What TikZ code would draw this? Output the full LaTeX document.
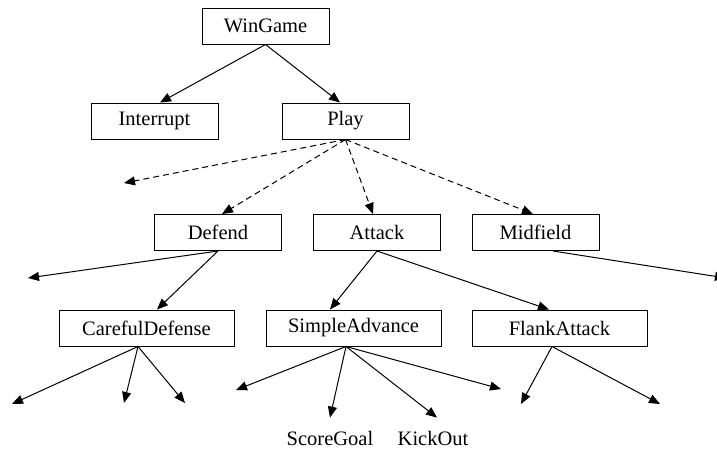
\documentclass[tikz,border=0pt]{standalone}
\usepackage{fontspec}
\setmainfont{Liberation Serif}
\usetikzlibrary{arrows.meta}
\begin{document}
\begin{tikzpicture}[x=1pt,y=-1pt,
  every node/.style={font=\fontsize{20.5}{24}\selectfont},
  goal/.style={draw,line width=1pt,minimum width=127pt,minimum height=36pt,inner sep=0pt},
  widegoal/.style={goal,minimum width=175pt},
  plain/.style={inner sep=0pt},
  link/.style={line width=1pt,-{Triangle[length=11pt,width=9pt]}},
  optlink/.style={link,dash pattern=on 6pt off 4pt}]
\useasboundingbox (0,0) rectangle (717,451);

% goal boxes
\node[goal] (win) at (265.5,26) {WinGame};
\node[goal] (int) at (154.5,121) {Interrupt};
\node[goal] (play) at (345.5,121) {Play};
\node[goal] (def) at (218,232.5) {Defend};
\node[goal] (att) at (377,232.5) {Attack};
\node[goal] (mid) at (535.5,232.5) {Midfield};
\node[widegoal] (care) at (146.5,328) {CarefulDefense};
\node[widegoal] (simp) at (353.5,328) {SimpleAdvance};
\node[widegoal] (flank) at (559.5,328) {FlankAttack};
\node[plain] (score) at (330,438) {ScoreGoal};
\node[plain] (kick) at (433,438) {KickOut};

% free arrow ends
\coordinate (p1) at (124,183);
\coordinate (d1) at (28,278);
\coordinate (m1) at (726,278);
\coordinate (c1) at (12,404);
\coordinate (c2) at (124,403);
\coordinate (c3) at (185,403);
\coordinate (s1) at (236,390);
\coordinate (s2) at (501,389);
\coordinate (f1) at (521,404);
\coordinate (f2) at (660,404);

% WinGame
\draw[link] (win.south) -- ([xshift=5.5pt]int.north);
\draw[link] (win.south) -- ([xshift=-5.5pt]play.north);

% Play (optional subgoals)
\draw[optlink] (play.south) -- (p1);
\draw[optlink] (play.south) -- ([xshift=4pt]def.north);
\draw[optlink] (play.south) -- ([xshift=-4pt]att.north);
\draw[optlink] (play.south) -- ([xshift=-2.5pt]mid.north);

% Defend / Attack / Midfield
\draw[link] (def.south) -- (d1);
\draw[link] (def.south) -- ([xshift=10.5pt]care.north);
\draw[link] (att.south) -- ([xshift=-23.5pt]simp.north);
\draw[link] (att.south) -- ([xshift=-10.5pt]flank.north);
\draw[link] ([xshift=17.5pt]mid.south) -- (m1);

% CarefulDefense
\draw[link] ([xshift=-8.5pt]care.south) -- (c1);
\draw[link] ([xshift=-8.5pt]care.south) -- (c2);
\draw[link] ([xshift=-8.5pt]care.south) -- (c3);

% SimpleAdvance
\draw[link] ([xshift=-7.5pt]simp.south) -- (s1);
\draw[link] ([xshift=-7.5pt]simp.south) -- ([yshift=13pt]score.north);
\draw[link] ([xshift=-7.5pt]simp.south) -- ([xshift=4pt,yshift=13pt]kick.north);
\draw[link] ([xshift=-7.5pt]simp.south) -- (s2);

% FlankAttack
\draw[link] ([xshift=-7.5pt]flank.south) -- (f1);
\draw[link] ([xshift=-7.5pt]flank.south) -- (f2);
\end{tikzpicture}
\end{document}
